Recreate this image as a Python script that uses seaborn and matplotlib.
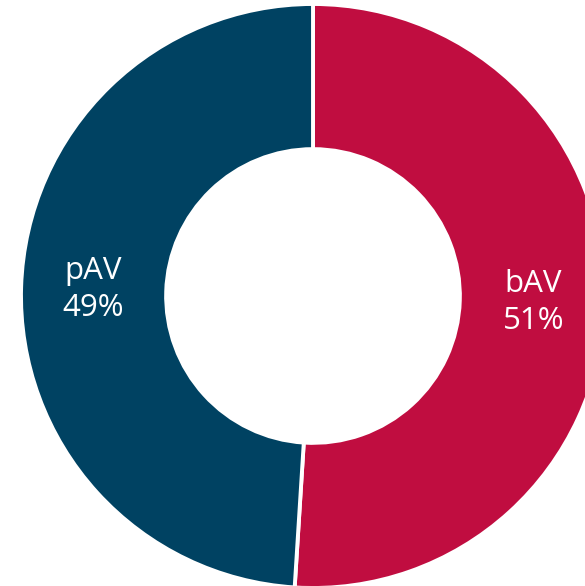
import matplotlib
matplotlib.use("Agg")
import matplotlib.pyplot as plt
import seaborn as sns
import numpy as np

sns.set_theme(style="white")
plt.rcParams['font.family'] = ['Open Sans', 'DejaVu Sans']

categories = ["bAV", "pAV"]
values = [51, 49]
colors = ["#C00D40", "#004262"]

fig = plt.figure(figsize=(5.85, 5.86), dpi=100)
ax = fig.add_axes([0, 0, 1, 1])

ax.pie(values, colors=colors, startangle=90, counterclock=False, radius=1.0,
       wedgeprops=dict(width=0.497, edgecolor="white", linewidth=2.8))

total = sum(values)
start = 90.0
for cat, v in zip(categories, values):
    mid = start - v / total * 360 / 2
    start -= v / total * 360
    r = 0.755
    ax.text(r * np.cos(np.radians(mid)), r * np.sin(np.radians(mid)),
            f"{cat}\n{v}%", ha="center", va="center", color="white",
            fontsize=22.5, linespacing=1.3)

sc = 292.0
cx, cy = 313, 296
ax.set_xlim(-cx / sc, (585 - cx) / sc)
ax.set_ylim(-(586 - cy) / sc, cy / sc)
ax.set_aspect("auto")
ax.axis("off")
fig.savefig("out.png", dpi=100)
